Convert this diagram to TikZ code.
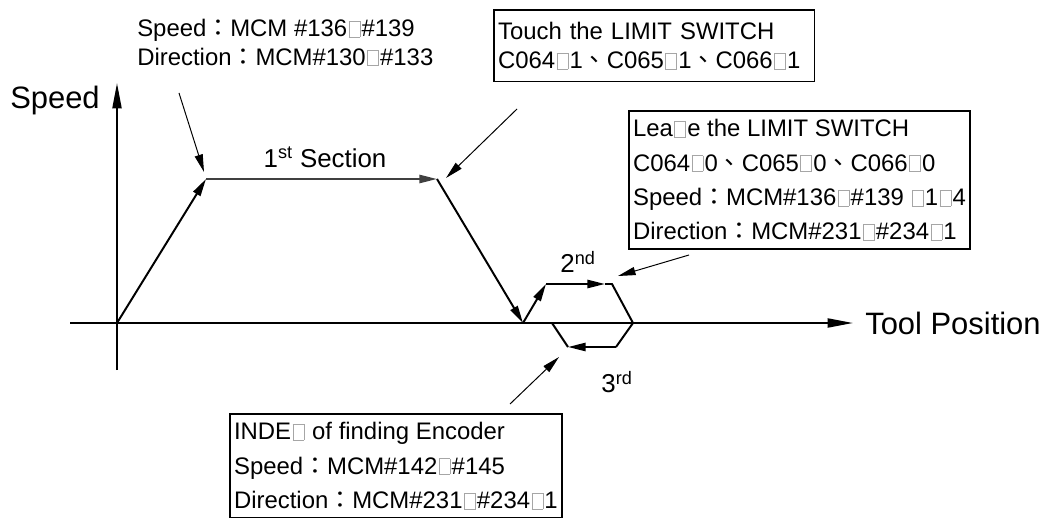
\documentclass[tikz,border=0pt]{standalone}
\usepackage{fontspec}
\setmainfont{Liberation Sans}
\newfontfamily\cjk{Noto Sans CJK TC}
\usetikzlibrary{arrows.meta}
\tikzset{
  >={Triangle[length=12.5pt,width=5.8pt]},
  track/.style={line width=1.4pt},
  axisline/.style={line width=1.4pt,-{Triangle[length=18pt,width=6.4pt]}},
  pointer/.style={line width=0.7pt,->},
  notebox/.style={draw,line width=1.2pt,align=left,anchor=north west,inner xsep=3pt,inner ysep=6pt,font=\fontsize{17}{24.5}\selectfont},
  plaintext/.style={align=left,anchor=north west,inner sep=0pt,font=\fontsize{17}{20.5}\selectfont},
  biglabel/.style={inner sep=0pt,font=\fontsize{22}{26}\selectfont},
  seclabel/.style={inner sep=0pt,font=\fontsize{18.4}{22}\selectfont},
}
\newcommand{\tofu}{\kern0.06em{\color{gray!70}\setlength{\fboxsep}{0pt}\setlength{\fboxrule}{0.35pt}\fbox{\rule{0pt}{0.64em}\hspace{0.44em}}}\kern0.06em}
\newcommand{\fcolon}{{\cjk ：}}
\newcommand{\dun}{{\cjk 、}}
\begin{document}
\begin{tikzpicture}[x=0.025cm,y=-0.025cm]
  \useasboundingbox (0,0) rectangle (1052,525);
  \coordinate (o) at (117,323);
  \coordinate (ytop) at (117,83);
  \coordinate (ybot) at (117,370);
  \coordinate (xl) at (70,323);
  \coordinate (xr) at (853,323);
  \coordinate (a) at (206,179);
  \coordinate (b) at (437,179);
  \coordinate (c) at (523,323);
  \coordinate (d) at (546,284);
  \coordinate (dm) at (605,284);
  \coordinate (e) at (612,284);
  \coordinate (f) at (633,323);
  \coordinate (g) at (616,347);
  \coordinate (h) at (568,347);
  \coordinate (k) at (552,323);
  \draw[axisline] (ybot) -- (ytop);
  \draw[axisline] (xl) -- (xr);
  \node[biglabel,anchor=east] (yl) at (100,101) {Speed};
  \node[biglabel,anchor=west] (xlab) at (865,323) {Tool Position};
  \draw[track,->] (o) -- (a);
  \draw[track,->,black!75] (a) -- (b);
  \draw[track,->] (b) -- (c);
  \draw[track,->] (c) -- (d);
  \draw[track,->] (d) -- (dm);
  \draw[track] (dm) -- (e) -- (f) -- (g);
  \draw[track,->] (g) -- (h);
  \draw[track] (h) -- (k);
  \node[seclabel] (s1) at (325,157) {1\textsuperscript{st} Section};
  \node[seclabel] (s2) at (578,262) {2\textsuperscript{nd}};
  \node[seclabel] (s3) at (617,382) {3\textsuperscript{rd}};
  \node[plaintext] (n1) at (137,19) {Speed\fcolon MCM \#136\tofu\#139\\Direction\fcolon MCM\#130\tofu\#133};
  \node[notebox,inner ysep=7pt,text width=222pt,minimum height=51pt,font=\fontsize{17}{21}\selectfont] (n2) at (493,9) {Touch the LIMIT SWITCH\\C064\tofu1\dun C065\tofu1\dun C066\tofu1};
  \node[notebox] (n3) at (628,110) {Lea\tofu e the LIMIT SWITCH\\C064\tofu0\dun C065\tofu0\dun C066\tofu0\\Speed\fcolon MCM\#136\tofu\#139 \tofu1\tofu4\\Direction\fcolon MCM\#231\tofu\#234\tofu1};
  \node[notebox] (n4) at (229,413) {INDE\tofu{} of finding Encoder\\Speed\fcolon MCM\#142\tofu\#145\\Direction\fcolon MCM\#231\tofu\#234\tofu1};
  \coordinate (p1) at (179,93);
  \coordinate (q1) at (204,172);
  \coordinate (p2) at (517,109);
  \coordinate (q2) at (446,178);
  \coordinate (p3) at (689,255);
  \coordinate (q3) at (618,276);
  \coordinate (p4) at (510,404);
  \coordinate (q4) at (559,357);
  \draw[pointer] (p1) -- (q1);
  \draw[pointer] (p2) -- (q2);
  \draw[pointer] (p3) -- (q3);
  \draw[pointer] (p4) -- (q4);
\end{tikzpicture}
\end{document}
